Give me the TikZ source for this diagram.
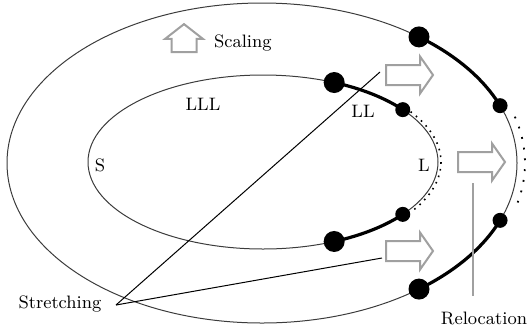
\documentclass[tikz,border=0pt]{standalone}
\usepackage{tikz}
\usetikzlibrary{arrows.meta, positioning, shapes.arrows, calc}
\definecolor{curvegray}{RGB}{60,60,60}
\definecolor{arrowgray}{RGB}{160,160,160}

\begin{document}
\begin{tikzpicture}[
  x=0.5pt, y=-0.5pt,
  curve/.style={draw=curvegray, line width=0.5pt},
  thickarc/.style={line width=1.6pt, black},
  bigdot/.style={circle, fill=black, inner sep=0pt, minimum size=10.5pt},
  smalldot/.style={circle, fill=black, inner sep=0pt, minimum size=7.5pt},
  blockarrow/.style={
    single arrow, draw=arrowgray, line width=1pt, fill=white,
    inner sep=4.5pt, minimum height=23.5pt,
    single arrow head extend=4.25pt, single arrow tip angle=110
  },
  every node/.style={font=\small}
]
  \useasboundingbox (0,0) rectangle (529,327);

  % Contours
  \coordinate (oc) at (262,163);
  \coordinate (ic) at (263,162);
  \draw[curve] (oc) ellipse [x radius=255, y radius=160];
  \draw[curve] (ic) ellipse [x radius=175, y radius=87];

  % Inner contour: end points of the moved pieces
  \path (ic) ++(-66:175 and 87) node[bigdot]   (ibt) {};
  \path (ic) ++(-37:175 and 87) node[smalldot] (ist) {};
  \path (ic) ++(37:175 and 87)  node[smalldot] (isb) {};
  \path (ic) ++(66:175 and 87)  node[bigdot]   (ibb) {};
  \draw[thickarc] (ibt.center) arc[start angle=-66, end angle=-37, x radius=175, y radius=87];
  \draw[thickarc] (isb.center) arc[start angle=37, end angle=66, x radius=175, y radius=87];
  \draw[line width=0.8pt, dash pattern=on 0.8pt off 2.6pt]
    (ic) ++(-34:178 and 90) arc[start angle=-34, end angle=34, x radius=178, y radius=90];

  % Outer contour
  \path (oc) ++(-52:255 and 160) node[bigdot]   (obt) {};
  \path (oc) ++(-21:255 and 160) node[smalldot] (ost) {};
  \path (oc) ++(21:255 and 160)  node[smalldot] (osb) {};
  \path (oc) ++(52:255 and 160)  node[bigdot]   (obb) {};
  \draw[thickarc] (obt.center) arc[start angle=-52, end angle=-21, x radius=255, y radius=160];
  \draw[thickarc] (osb.center) arc[start angle=21, end angle=52, x radius=255, y radius=160];
  \draw[line width=0.9pt, dash pattern=on 0.9pt off 4.5pt]
    (oc) ++(-16:263 and 168) arc[start angle=-16, end angle=16, x radius=263, y radius=168];

  % Labels
  \node (lll) at (203,104) {LLL};
  \node (ll)  at (363,111) {LL};
  \node (l)   at (424,165) {L};
  \node (s)   at (100,165) {S};

  % Block arrows
  \node[blockarrow, rotate=90, minimum height=14pt, inner xsep=1pt, inner ysep=5.75pt,
        single arrow head extend=3.25pt, single arrow tip angle=104]
        (scalearr) at (184,43) {};
  \node[anchor=west] (scaling) at (207,43) {Scaling};
  \node[blockarrow] (uparr)  at (406,75)  {};
  \node[blockarrow] (midarr) at (478,162) {};
  \node[blockarrow] (lowarr) at (406,251) {};

  % Stretching and relocation
  \node (stretch) at (60,304) {Stretching};
  \coordinate (apex) at (116,305);
  \draw[line width=0.5pt] (apex) -- ([xshift=-2.5pt,yshift=1.5pt]uparr.west);
  \draw[line width=0.5pt] (apex) -- ([xshift=-1.5pt,yshift=-3.5pt]lowarr.west);
  \node (reloc) at (484,318) {Relocation};
  \draw[arrowgray, line width=1.2pt] ($(midarr.center)+(-5,21)$) -- ($(reloc.north)+(-11,-8)$);
\end{tikzpicture}
\end{document}
